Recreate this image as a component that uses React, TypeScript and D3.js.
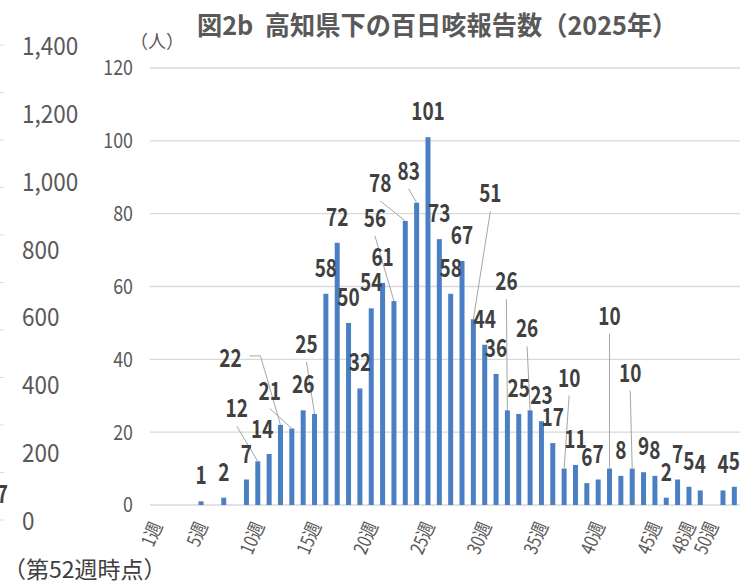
import * as d3 from 'd3';
import React from 'react';

// weekly pertussis reports, Kochi 2025 (weeks 1..52)
const weeks = d3.range(1, 53);
const cases = [
  0, 0, 0, 0, 1, 0, 2, 0, 7, 12, 14, 22, 21, 26, 25, 58, 72, 50, 32, 54, 61, 56,
  78, 83, 101, 73, 58, 67, 51, 44, 36, 26, 25, 26, 23, 17, 10, 11, 6, 7, 10, 8,
  10, 9, 8, 2, 7, 5, 4, 0, 4, 5
];
const tickWeeks = [1, 5, 10, 15, 20, 25, 30, 35, 40, 45, 48, 50];
const yTicks = [0, 20, 40, 60, 80, 100, 120];
// the axis of the chart that sits behind this one, cut at the left edge
const ghostLabels = [0, 200, 400, 600, 800, 1000, 1200, 1400];

// labels that were dragged away from their bar: [dx, dy] from bar top, px
const labelMoves: Record<number, [number, number]> = {
  10: [-21, -44],
  11: [-7, -16],
  12: [-50, -58],
  13: [-22, -29],
  15: [-8, -61],
  22: [-19, -74],
  23: [-25, -29],
  24: [-8, -23],
  29: [17, -117],
  32: [-1, -120],
  34: [-3, -73],
  37: [5, -82],
  41: [0, -144],
  43: [-2, -87]
};
const leaderWeeks = [10, 12, 13, 15, 22, 23, 24, 29, 32, 34, 37, 41, 43];
const elbowWeeks = [12];

const W = 747;
const H = 585;
const margin = { top: 68, right: 7, bottom: 80, left: 150 };
const FONT = "'Noto Sans CJK JP', 'Noto Sans', sans-serif";

// text squeezed horizontally, the original uses a narrow face
const Narrow: React.FC<{
  x: number;
  y: number;
  sx: number;
  rotate?: number;
  anchor?: string;
  dy?: string;
  size: number;
  weight?: string;
  fill: string;
  children: React.ReactNode;
}> = ({ x, y, sx, rotate = 0, anchor = 'start', dy, size, weight = 'normal', fill, children }) => (
  <g transform={`translate(${x},${y}) rotate(${rotate})`}>
    <text
      transform={`scale(${sx},1)`}
      textAnchor={anchor}
      dy={dy}
      fontFamily={FONT}
      fontSize={size}
      fontWeight={weight}
      fill={fill}
      style={{ whiteSpace: 'pre' }}
    >
      {children}
    </text>
  </g>
);

export default function App() {
  const x = d3
    .scaleBand<number>()
    .domain(weeks)
    .range([margin.left, W - margin.right])
    .paddingInner(0.56)
    .paddingOuter(0.28);
  const y = d3
    .scaleLinear()
    .domain([0, 120])
    .range([H - margin.bottom, margin.top]);
  const ghostY = d3.scaleLinear().domain([0, 1400]).range([530, 55]);
  const ghostTick = d3.scaleLinear().domain([0, 1000]).range([520, 45]);
  const fmt = d3.format(',');

  const cx = (w: number) => (x(w) ?? 0) + x.bandwidth() / 2;

  return (
    <svg
      width={W}
      height={H}
      style={{ position: 'absolute', left: 0, top: 0, background: '#fff' }}
    >
      {/* ghost axis on the left */}
      {ghostTick.ticks(10).map((t) => (
        <line key={'gt' + t} x1={0} x2={4} y1={ghostTick(t)} y2={ghostTick(t)} stroke="#d9d9d9" />
      ))}
      {ghostLabels.map((v) => (
        <Narrow key={'gl' + v} x={22} y={ghostY(v)} sx={0.9} size={25} fill="#595959">
          {fmt(v)}
        </Narrow>
      ))}
      <Narrow x={8} y={503} sx={0.76} anchor="end" size={25} weight="bold" fill="#404040">
        7
      </Narrow>

      {/* title */}
      <Narrow x={197} y={35} sx={0.97} size={26} weight="bold" fill="#595959">
        図2b  高知県下の百日咳報告数（2025年）
      </Narrow>
      <text x={130} y={48} fontFamily={FONT} fontSize={18} fill="#595959">
        （人）
      </text>

      {/* grid + y axis */}
      {yTicks.map((t) => (
        <g key={'y' + t}>
          <line
            x1={margin.left}
            x2={W - margin.right}
            y1={y(t)}
            y2={y(t)}
            stroke="#d9d9d9"
            strokeWidth={1.3}
          />
          <Narrow x={133} y={y(t)} sx={0.85} dy="0.35em" anchor="end" size={21} fill="#595959">
            {t}
          </Narrow>
        </g>
      ))}

      {/* bars */}
      {weeks.map((w, i) => (
        <rect
          key={'b' + w}
          x={x(w)}
          y={y(cases[i])}
          width={x.bandwidth()}
          height={y(0) - y(cases[i])}
          fill="#4a7fc4"
        />
      ))}

      {/* leader lines */}
      {leaderWeeks.map((w) => {
        const v = cases[w - 1];
        const [dx, dy] = labelMoves[w];
        const bx = cx(w);
        const by = y(v);
        const lx = bx + dx;
        const ly = by + dy;
        const pts = elbowWeeks.includes(w)
          ? [
              [lx + 19, ly - 11],
              [lx + 30, ly - 11],
              [bx, by]
            ]
          : [
              [lx, ly + 9],
              [bx, by]
            ];
        return (
          <path
            key={'ll' + w}
            d={d3.line()(pts as [number, number][]) ?? ''}
            fill="none"
            stroke="#a6a6a6"
            strokeWidth={1}
          />
        );
      })}

      {/* data labels */}
      {weeks.map((w, i) => {
        const v = cases[i];
        if (!v) return null;
        const [dx, dy] = labelMoves[w] ?? [0, -17];
        return (
          <Narrow
            key={'l' + w}
            x={cx(w) + dx}
            y={y(v) + dy}
            sx={0.76}
            anchor="middle"
            size={25}
            weight="bold"
            fill="#404040"
          >
            {v}
          </Narrow>
        );
      })}

      {/* x tick labels */}
      {tickWeeks.map((w) => (
        <Narrow
          key={'x' + w}
          x={cx(w) + 1}
          y={y(0) + 18}
          rotate={-67}
          sx={0.82}
          anchor="end"
          dy="0.35em"
          size={19}
          fill="#595959"
        >
          {w}週
        </Narrow>
      ))}

      <text x={3} y={578} fontFamily={FONT} fontSize={23} fill="#404040">
        （第52週時点）
      </text>
    </svg>
  );
}
